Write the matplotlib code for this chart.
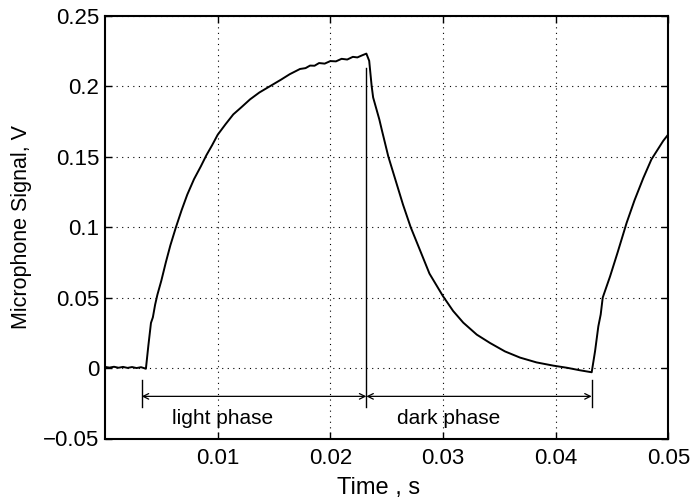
import matplotlib
matplotlib.use("Agg")
import matplotlib.pyplot as plt

plt.rcParams['font.family'] = ['Liberation Sans', 'DejaVu Sans']

# ---- data (time in s, signal in V) ----
baseline_t = [0.0000, 0.0004, 0.0008, 0.0012, 0.0016, 0.0020, 0.0024, 0.0028, 0.0032]
baseline_v = [0.0008, 0.0003, 0.0009, 0.0002, 0.0008, 0.0001, 0.0007, 0.0000, 0.0006]

rise_t = [0.00363, 0.00385, 0.00408, 0.00425, 0.00445, 0.00465, 0.0050, 0.0054, 0.0058,
          0.0063, 0.0068, 0.0073, 0.0079, 0.0085, 0.0090, 0.0095, 0.0100,
          0.0107, 0.01139, 0.0121, 0.01287, 0.0137, 0.01465, 0.0156, 0.0164, 0.01731,
          0.0178, 0.0182, 0.0186, 0.0190, 0.0195, 0.0200, 0.0205, 0.0210, 0.0215,
          0.0220, 0.0224, 0.0228, 0.0232]
rise_v = [-0.0005, 0.016, 0.032, 0.036, 0.045, 0.052, 0.062, 0.075, 0.087,
          0.100, 0.112, 0.123, 0.134, 0.143, 0.151, 0.158, 0.1655,
          0.173, 0.180, 0.185, 0.1906, 0.1955, 0.200, 0.2045, 0.2085, 0.2122,
          0.2128, 0.2146, 0.2145, 0.2164, 0.2160, 0.2178, 0.2176, 0.2194, 0.2189,
          0.2208, 0.2204, 0.2218, 0.2231]

decay_t = [0.02345, 0.02367, 0.0238, 0.02435, 0.02456, 0.02515, 0.0258, 0.02645,
           0.02713, 0.0279, 0.0288, 0.0300, 0.0309, 0.0318, 0.0330, 0.03417,
           0.0355, 0.03684, 0.0383, 0.03979, 0.0410, 0.04216, 0.0432]
decay_v = [0.218, 0.200, 0.192, 0.1764, 0.1693, 0.150, 0.133, 0.116,
           0.100, 0.0848, 0.0670, 0.0510, 0.0405, 0.0322, 0.0237, 0.0178,
           0.0118, 0.0074, 0.0040, 0.0017, 0.0002, -0.0016, -0.0030]

rise2_t = [0.0435, 0.04379, 0.0440, 0.04418, 0.04483, 0.0455, 0.0463, 0.0470,
           0.04778, 0.0485, 0.04955, 0.0500]
rise2_v = [0.012, 0.0296, 0.038, 0.050, 0.0650, 0.082, 0.1030, 0.119,
           0.1348, 0.148, 0.1612, 0.1658]

time = baseline_t + rise_t + decay_t + rise2_t
signal = baseline_v + rise_v + decay_v + rise2_v

# phase markers
light_start = 0.00326
switch_time = 0.0232
dark_end = 0.0432
switch_line_top = 0.2131
marker_bottom = -0.028
marker_top = -0.0085
arrow_level = -0.0201
label_level = -0.0360
light_label_x = 0.0104
dark_label_x = 0.0305

x_ticks = [0.01, 0.02, 0.03, 0.04, 0.05]
x_ticklabels = ['0.01', '0.02', '0.03', '0.04', '0.05']
y_ticks = [-0.05, 0, 0.05, 0.1, 0.15, 0.2, 0.25]
y_ticklabels = ['\u22120.05', '0', '0.05', '0.1', '0.15', '0.2', '0.25']

fig = plt.figure(figsize=(6.95, 5.03), dpi=100)
W, H = 695, 503
ax = fig.add_axes([105 / W, 1 - 438.5 / H, (668.3 - 105) / W, (438.5 - 15.7) / H])

ax.plot(time, signal, color='black', lw=1.4, zorder=3)

# switch line and end markers
ax.plot([switch_time, switch_time], [marker_bottom, switch_line_top], color='black', lw=1.0)
ax.plot([light_start, light_start], [marker_bottom, marker_top], color='black', lw=1.0)
ax.plot([dark_end, dark_end], [marker_bottom, marker_top], color='black', lw=1.0)

arrow_kw = dict(arrowstyle='<->', color='black', lw=0.9, mutation_scale=10,
                shrinkA=0, shrinkB=0)
ax.annotate('', xy=(switch_time, arrow_level), xytext=(light_start, arrow_level),
            arrowprops=arrow_kw)
ax.annotate('', xy=(dark_end, arrow_level), xytext=(switch_time, arrow_level),
            arrowprops=arrow_kw)

ax.text(light_label_x, label_level, 'light phase', ha='center', va='center', fontsize=15)
ax.text(dark_label_x, label_level, 'dark phase', ha='center', va='center', fontsize=15)

ax.set_xlim(0, 0.05)
ax.set_ylim(-0.05, 0.25)
ax.set_xticks(x_ticks)
ax.set_xticklabels(x_ticklabels)
ax.set_yticks(y_ticks)
ax.set_yticklabels(y_ticklabels)
ax.tick_params(direction='in', length=5, width=1, top=True, right=True,
               labelsize=16)
ax.tick_params(axis='x', pad=7)
ax.tick_params(axis='y', pad=4)
ax.grid(True, color='black', linestyle=(0, (1, 4)), linewidth=0.8)
for s in ax.spines.values():
    s.set_linewidth(1.5)

ax.set_xlabel('Time , s', fontsize=17)
ax.xaxis.set_label_coords(0.485, -0.092)
ax.set_ylabel('Microphone Signal, V', fontsize=15.5, labelpad=8)

fig.savefig('out.png', dpi=100)
